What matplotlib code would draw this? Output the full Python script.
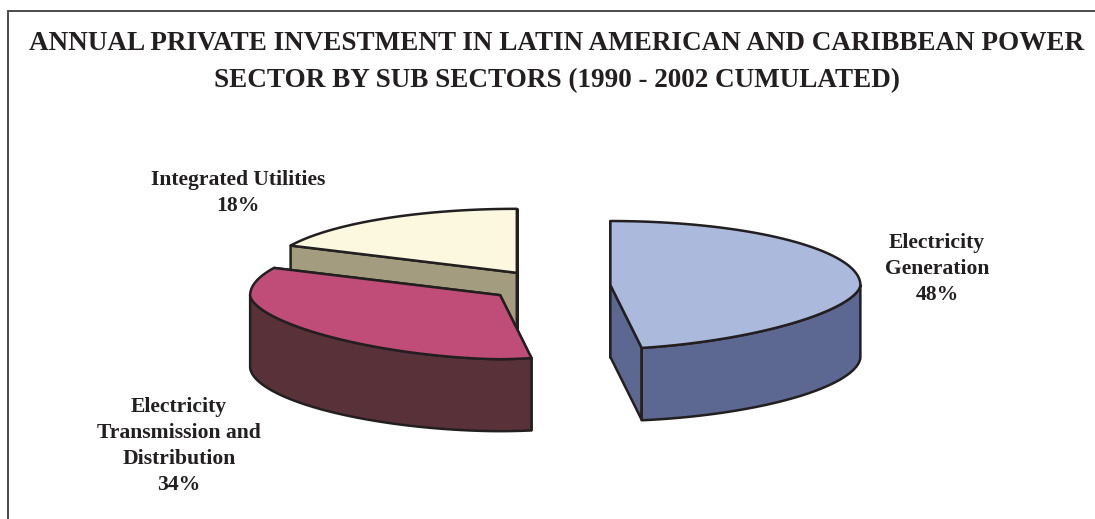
import numpy as np
import matplotlib
matplotlib.use('Agg')
import matplotlib.pyplot as plt
from matplotlib.patches import Polygon

# Private investment shares by sub sector, percent
categories = ['Electricity\nGeneration', 'Electricity\nTransmission and\nDistribution', 'Integrated Utilities']
shares = [48, 34, 18]

top_colors = ['#aab9dc', '#c04d78', '#fcf7df']
side_colors = ['#5c6792', '#583238', '#a39c7e']

title = 'ANNUAL PRIVATE INVESTMENT IN LATIN AMERICAN AND CARIBBEAN POWER\nSECTOR BY SUB SECTORS (1990 - 2002 CUMULATED)'

# Pie geometry, in pixels
cx, cy = 549.5, 286
rx, ry = 250, 64
depth = 72
explode = 61
ink = '#231f20'

plt.rcParams['font.family'] = ['Liberation Serif', 'DejaVu Serif']

fig = plt.figure(figsize=(10.95, 5.19), dpi=100)
ax = fig.add_axes([0, 0, 1, 1])
ax.set_xlim(0, 1095)
ax.set_ylim(519, 0)
ax.axis('off')


def rim(c, a0, a1, p=2.0):
    # Points on the rim, angles clockwise from 12 o'clock.
    # p below 2 flattens the front half a little, like a perspective view
    t = np.radians(np.linspace(a0, a1, 120))
    s, co = np.sin(t), np.cos(t)
    y = np.where(co < 0, -(1 - np.abs(s) ** p) ** (1 / p), co)
    return np.column_stack([c[0] + rx * s, c[1] - ry * y])


def draw_part(pts, color):
    ax.add_patch(Polygon(pts, closed=True, facecolor=color, edgecolor=ink, linewidth=1.8, joinstyle='round'))


def draw_wedge(a0, a1, top, side):
    mid = np.radians((a0 + a1) / 2)
    c = np.array([cx + explode * np.sin(mid), cy - explode * ry / rx * np.cos(mid)])
    down = np.array([0, depth])

    # Cut faces first, the top and the outer wall paint over the hidden ones
    for a in (a0, a1):
        edge = rim(c, a, a, 1.7)[0]
        draw_part([c, edge, edge + down, c + down], side)

    # Outer wall only on the front half of the ellipse
    w0, w1 = max(a0, 90), min(a1, 270)
    if w0 < w1:
        draw_part(np.vstack([rim(c, w0, w1, 1.7), rim(c, w1, w0, 1.85) + down]), side)

    draw_part(np.vstack([[c], rim(c, a0, a1, 1.7)]), top)


# Angles of each slice, then painted back to front
ends = np.cumsum(shares) * 3.6
starts = ends - np.array(shares) * 3.6
for i in [2, 1, 0]:
    draw_wedge(starts[i], ends[i], top_colors[i], side_colors[i])

# Frame runs off the right and bottom of the figure
ax.plot([1095, 8, 8], [11, 11, 519], color='#4a4a4a', linewidth=1.4, solid_joinstyle='miter')

ax.text(556.5, 62, title, ha='center', va='center', fontsize=19.5, fontweight='bold', color=ink, linespacing=1.63)

label_pos = [(937, 269), (179, 446), (238, 193)]
for name, share, (x, y) in zip(categories, shares, label_pos):
    ax.text(x, y, f'{name}\n{share}%', ha='center', va='center', fontsize=15.6, fontweight='bold', color=ink, linespacing=1.38)

fig.savefig('out.png', dpi=100)
